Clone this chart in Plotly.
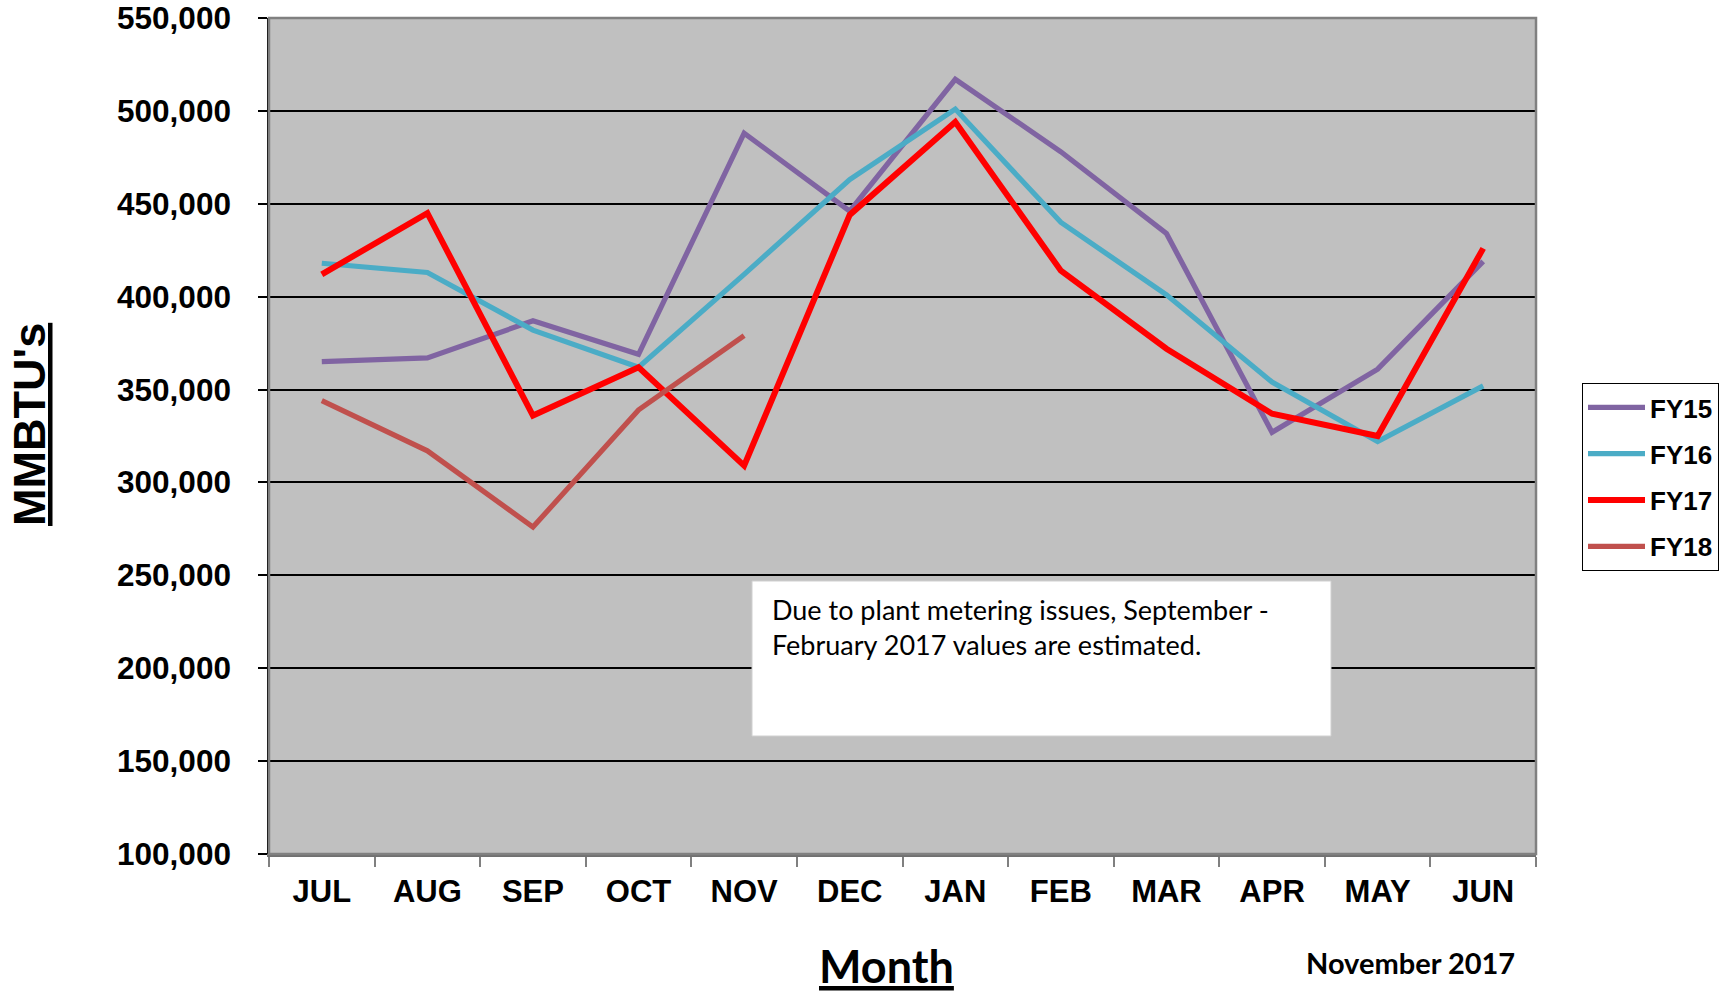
import plotly.graph_objects as go

# ---- data ----
months = ["JUL", "AUG", "SEP", "OCT", "NOV", "DEC", "JAN", "FEB", "MAR", "APR", "MAY", "JUN"]
fy15 = [365000, 367000, 387000, 369000, 488000, 446000, 517000, 478000, 434000, 327000, 361000, 419000]
fy16 = [418000, 413000, 382000, 362000, 412000, 463000, 501000, 440000, 401000, 354000, 322000, 352000]
fy17 = [412000, 445000, 336000, 362000, 309000, 444000, 494000, 414000, 372000, 337000, 325000, 426000]
fy18 = [344000, 317000, 276000, 339000, 379000]
y_ticks = [100000, 150000, 200000, 250000, 300000, 350000, 400000, 450000, 500000, 550000]

series = [
    ("FY15", fy15, "#8064A2", 5.2),
    ("FY16", fy16, "#4BACC6", 5.2),
    ("FY17", fy17, "#FF0000", 6.0),
    ("FY18", fy18, "#C0504D", 5.2),
]

W, H = 1724, 998
L, T = 269, 18
PW, PH = 1267, 836
R, B = W - L - PW, H - T - PH


def px(x):
    return (x - L) / PW


def py(y):
    return (T + PH - y) / PH


fig = go.Figure()
for name, vals, color, lw in series:
    fig.add_trace(go.Scatter(
        x=months[:len(vals)], y=vals, name=name, mode="lines",
        line=dict(color=color, width=lw), legendgroup=name,
    ))

AX_FONT = "Liberation Sans, Arial, sans-serif"
TX_FONT = "Lato, Open Sans, sans-serif"

fig.update_layout(
    width=W, height=H,
    margin=dict(l=L, r=R, t=T, b=B, pad=0, autoexpand=False),
    plot_bgcolor="#C0C0C0", paper_bgcolor="white",
    showlegend=True,
    legend=dict(
        x=px(1582), y=py(383), xanchor="left", yanchor="top",
        bgcolor="white", bordercolor="black", borderwidth=1,
        font=dict(family=AX_FONT, size=26, color="black", weight="bold"),
        tracegroupgap=9.5, itemwidth=57,
    ),
    xaxis=dict(
        type="category", categoryorder="array", categoryarray=months,
        range=[-0.5, 11.5], tickson="boundaries", automargin=False,
        ticks="outside", ticklen=10, tickwidth=1.5, tickcolor="#808080",
        showline=True, linecolor="#707070", linewidth=2.5,
        showgrid=False, zeroline=False,
        tickfont=dict(family=AX_FONT, size=31, color="black", weight="bold"),
        ticklabelstandoff=8, ticklabeloverflow="allow",
    ),
    yaxis=dict(
        range=[100000, 550000], tickvals=y_ticks, tickformat=",", automargin=False,
        ticks="outside", ticklen=9, tickwidth=1.5, tickcolor="black",
        showgrid=True, gridcolor="black", gridwidth=1.6,
        showline=True, linecolor="black", linewidth=1.5, zeroline=False,
        tickfont=dict(family=AX_FONT, size=31.5, color="black", weight="bold"),
        ticklabelstandoff=21, ticklabeloverflow="allow",
    ),
    shapes=[
        dict(type="rect", xref="paper", yref="paper", x0=0, x1=1, y0=0, y1=1,
             line=dict(color="#808080", width=2.5), layer="above"),
        dict(type="rect", xref="paper", yref="paper",
             x0=px(752), x1=px(1331), y0=py(736), y1=py(581),
             fillcolor="white", line=dict(color="#D0D0D0", width=1), layer="above"),
    ],
    annotations=[
        dict(text="Due to plant metering issues, September -<br>February 2017 values are estimated.",
             xref="paper", yref="paper", x=px(770), y=py(591), xanchor="left", yanchor="top",
             align="left", showarrow=False,
             font=dict(family=TX_FONT, size=27, color="black")),
        dict(text="MMBTU's", xref="paper", yref="paper", x=px(30), y=py(425),
             xanchor="center", yanchor="middle", textangle=-90, showarrow=False,
             font=dict(family=AX_FONT, size=45, color="black", weight="bold", lineposition="under")),
        dict(text="Month", xref="paper", yref="paper", x=px(886), y=py(966),
             xanchor="center", yanchor="middle", showarrow=False,
             font=dict(family=TX_FONT, size=45, color="black", weight="bold", lineposition="under")),
        dict(text="November 2017", xref="paper", yref="paper", x=px(1410), y=py(962),
             xanchor="center", yanchor="middle", showarrow=False,
             font=dict(family=TX_FONT, size=29, color="black", weight="bold")),
    ],
)

# remove the default 8px page margin so the chart fills the window exactly
fig.write_html("out.html",
               config={"displayModeBar": False},
               post_script="document.body.style.margin='0px';document.body.style.overflow='hidden';")
